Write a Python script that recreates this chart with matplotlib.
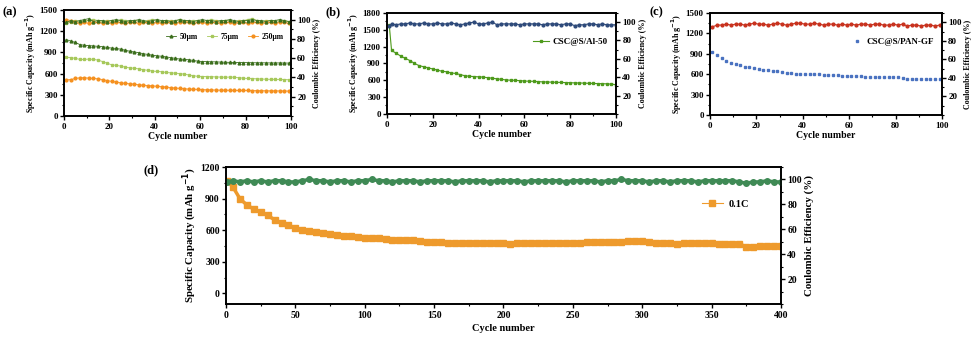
import numpy as np
import matplotlib
matplotlib.use("Agg")
from matplotlib import pyplot as plt
from matplotlib.ticker import MultipleLocator

plt.rcParams['font.family'] = ['Liberation Serif', 'DejaVu Serif']
plt.rcParams['font.weight'] = 'bold'
plt.rcParams['axes.labelweight'] = 'bold'
plt.rcParams['mathtext.default'] = 'bf'

# ---- panel (a): thickness series, every 2nd cycle ----
a_cycles = list(range(1, 100, 2))
a_cap_50 = [1080, 1060, 1040, 1010, 1000, 995, 990, 985, 980, 970,
            960, 955, 945, 930, 915, 905, 895, 880, 870, 860,
            850, 845, 835, 825, 815, 805, 800, 795, 785, 775,
            770, 768, 766, 765, 762, 760, 758, 757, 756, 755,
            754, 753, 752, 752, 751, 750, 750, 750, 749, 748]
a_cap_75 = [830, 825, 815, 800, 800, 805, 800, 790, 770, 745,
            725, 715, 705, 690, 680, 675, 665, 655, 645, 635,
            630, 625, 615, 610, 605, 600, 590, 580, 570, 560,
            558, 556, 555, 552, 550, 548, 550, 548, 540, 535,
            530, 528, 525, 522, 520, 518, 518, 516, 515, 512]
a_cap_250 = [510, 515, 530, 540, 540, 535, 530, 525, 515, 500,
             490, 480, 470, 460, 455, 450, 440, 435, 430, 425,
             420, 415, 410, 400, 395, 390, 385, 380, 378, 375,
             372, 370, 368, 366, 365, 364, 363, 362, 361, 360,
             360, 358, 358, 357, 356, 355, 355, 354, 353, 352]
a_ce_50 = [97, 99, 98, 99, 100, 101, 98, 99, 99, 98,
           99, 100, 99, 98, 99, 99, 100, 99, 98, 99,
           100, 99, 99, 98, 99, 100, 99, 99, 98, 99,
           100, 99, 99, 98, 99, 99, 100, 99, 98, 99,
           99, 100, 99, 99, 98, 99, 99, 100, 99, 98]
a_ce_75 = [96, 98, 99, 98, 99, 99, 100, 99, 98, 99,
           99, 98, 100, 99, 98, 99, 99, 98, 99, 100,
           99, 98, 99, 99, 98, 100, 99, 98, 99, 99,
           98, 99, 100, 99, 98, 99, 99, 98, 99, 99,
           100, 101, 99, 98, 99, 99, 98, 99, 99, 98]
a_ce_250 = [100, 99, 97, 96, 97, 96, 97, 97, 96, 97,
            96, 97, 97, 96, 97, 97, 96, 97, 97, 96,
            97, 96, 97, 97, 96, 97, 98, 97, 96, 97,
            97, 96, 97, 97, 96, 97, 97, 96, 97, 97,
            96, 97, 97, 96, 97, 97, 96, 97, 97, 96]

# ---- panel (b): CSC@S/Al-50 ----
b_cycles = [1] + list(range(2, 101, 2))
b_cap = [1580, 1130, 1080, 1030, 990, 950, 900, 860, 840, 820,
         800, 780, 760, 750, 730, 720, 700, 680, 670, 665,
         660, 655, 645, 635, 625, 615, 605, 600, 598, 592,
         585, 582, 580, 575, 570, 568, 565, 562, 560, 558,
         555, 552, 550, 548, 545, 542, 540, 538, 535, 530, 520]
b_ce = [96, 98, 97, 98, 98, 99, 98, 98, 99, 98,
        98, 99, 98, 98, 99, 98, 97, 98, 99, 100,
        98, 98, 99, 100, 97, 98, 98, 98, 98, 97,
        98, 98, 98, 98, 97, 98, 98, 98, 97, 98,
        98, 96, 97, 97, 98, 98, 97, 98, 97, 97, 97]

# ---- panel (c): CSC@S/PAN-GF ----
c_cycles = list(range(1, 100, 2))
c_cap = [920, 880, 840, 800, 770, 750, 730, 710, 700, 690,
         675, 660, 655, 650, 645, 635, 620, 612, 605, 605,
         605, 600, 598, 595, 592, 590, 588, 585, 580, 575,
         572, 570, 568, 565, 562, 560, 558, 556, 555, 555,
         552, 545, 535, 530, 530, 530, 528, 525, 525, 522]
c_ce = [95, 97, 97, 98, 97, 98, 98, 97, 98, 99,
        98, 98, 97, 98, 99, 98, 97, 98, 99, 99,
        98, 98, 99, 98, 97, 98, 98, 97, 98, 97,
        98, 97, 98, 98, 97, 98, 98, 97, 97, 98,
        97, 98, 96, 97, 97, 96, 97, 97, 96, 97]

# ---- panel (d): 0.1C long cycling, every 5th cycle ----
d_cycles = [1] + list(range(5, 401, 5))
d_cap = [1070, 1010, 900, 840, 800, 770, 740, 700, 670, 650,
         620, 600, 590, 585, 575, 565, 555, 550, 545, 540,
         530, 525, 522, 518, 512, 508, 505, 503, 500, 490,
         485, 485, 482, 480, 478, 478, 477, 476, 476, 475,
         475, 474, 475, 478, 480, 478, 477, 478, 480, 480,
         482, 483, 485, 487, 490, 490, 490, 492, 495, 498,
         495, 485, 480, 478, 475, 472, 475, 480, 482, 478,
         476, 474, 472, 470, 468, 445, 445, 447, 448, 450, 450]
d_ce = [98, 99, 98, 99, 98, 99, 98, 99, 99, 98,
        98, 99, 100, 99, 99, 98, 99, 99, 98, 99,
        99, 100, 99, 99, 98, 99, 99, 99, 98, 99,
        99, 99, 99, 98, 99, 99, 99, 99, 98, 99,
        99, 99, 99, 98, 99, 99, 99, 99, 99, 98,
        99, 99, 99, 99, 98, 99, 99, 100, 99, 99,
        99, 98, 99, 99, 98, 99, 99, 99, 98, 99,
        99, 99, 99, 99, 98, 97, 98, 98, 99, 98, 98]

CAP_LABEL = 'Specific Capacity (mAh g$^{-1}$)'
CE_LABEL = 'Coulombic Efficiency (%)'


def style_axes(ax, ax2, xmax, xmaj, xmin_, ymax, ymaj, ymin_, ybottom=0,
               fs=6.5, lfs=5.8, xlfs=7, xpad=1):
    ax.set_xlim(0, xmax)
    ax.set_ylim(ybottom, ymax)
    ax.xaxis.set_major_locator(MultipleLocator(xmaj))
    ax.xaxis.set_minor_locator(MultipleLocator(xmin_))
    ax.set_yticks(np.arange(0, ymax + 1, ymaj))
    ax.yaxis.set_minor_locator(MultipleLocator(ymin_))
    ax2.set_ylim(0, 110)
    ax2.set_yticks([20, 40, 60, 80, 100])
    ax2.yaxis.set_minor_locator(MultipleLocator(10))
    for a in (ax, ax2):
        a.tick_params(which='major', direction='out', length=3, width=1, labelsize=fs)
        a.tick_params(which='minor', direction='out', length=1.6, width=0.8)
        for s in a.spines.values():
            s.set_linewidth(1.2)
    ax.tick_params(axis='x', pad=2)
    ax.tick_params(axis='y', pad=1.5)
    ax2.tick_params(axis='y', pad=1.5)
    ax.set_ylabel(CAP_LABEL, fontsize=lfs, labelpad=1)
    ax2.set_ylabel(CE_LABEL, fontsize=lfs, labelpad=2)
    ax.set_xlabel('Cycle number', fontsize=xlfs, labelpad=xpad)


fig = plt.figure(figsize=(9.75, 3.43), dpi=100)

# (a)
ax = fig.add_axes([0.0656, 0.662, 0.2328, 0.309])
ax2 = ax.twinx()
ax2.plot(a_cycles, a_ce_75, color='#a6c85a', marker='s', ms=2, lw=0.6)
ax2.plot(a_cycles, a_ce_250, color='#f5901e', marker='o', ms=2, lw=0.6)
ax2.plot(a_cycles, a_ce_50, color='#3b6e1c', marker='^', ms=2, lw=0.6)
ax.plot(a_cycles, a_cap_50, color='#3b6e1c', marker='^', ms=2, lw=0.6, label='50μm')
ax.plot(a_cycles, a_cap_75, color='#a6c85a', marker='s', ms=2, lw=0.6, label='75μm')
ax.plot(a_cycles, a_cap_250, color='#f5901e', marker='o', ms=2, lw=0.6, label='250μm')
style_axes(ax, ax2, 100, 20, 10, 1500, 300, 150)
ax.legend(loc='center right', bbox_to_anchor=(1.0, 0.745), ncol=3, frameon=False,
          fontsize=5.5, handlelength=1.3, columnspacing=1.2, handletextpad=0.5)
fig.text(0.003, 0.955, '(a)', fontsize=9, fontweight='bold')

# (b)
ax = fig.add_axes([0.3969, 0.668, 0.2349, 0.2945])
ax2 = ax.twinx()
ax2.plot(b_cycles, b_ce, color='#2e4a7a', marker='o', ms=2, lw=0.8)
ax.plot(b_cycles, b_cap, color='#4e9a1c', marker='s', ms=2, lw=0.8, label='CSC@S/Al-50')
style_axes(ax, ax2, 100, 20, 10, 1800, 300, 150)
ax.legend(loc='center right', bbox_to_anchor=(1.0, 0.71), frameon=False,
          fontsize=6.5, handlelength=1.8, handletextpad=0.4)
fig.text(0.334, 0.955, '(b)', fontsize=9, fontweight='bold')

# (c)
ax = fig.add_axes([0.7282, 0.665, 0.2379, 0.297])
ax2 = ax.twinx()
ax2.plot(c_cycles, c_ce, color='#c8321e', marker='o', ms=2, lw=0.8)
ax.plot(c_cycles, c_cap, color='#4a72c0', marker='s', ms=2, lw=0, label='CSC@S/PAN-GF')
style_axes(ax, ax2, 100, 20, 10, 1500, 300, 150)
ax.legend(loc='center right', bbox_to_anchor=(1.0, 0.72), frameon=False,
          fontsize=6.5, handlelength=1.2, handletextpad=0.4)
fig.text(0.666, 0.955, '(c)', fontsize=9, fontweight='bold')

# (d)
ax = fig.add_axes([0.2318, 0.1137, 0.5692, 0.3994])
ax2 = ax.twinx()
ax2.plot(d_cycles, d_ce, color='#3f8a55', marker='o', ms=4, lw=2.5)
ax.plot(d_cycles, d_cap, color='#ee9a2c', marker='s', ms=4, lw=2.5, label='0.1C')
style_axes(ax, ax2, 400, 50, 25, 1200, 300, 150, ybottom=-100,
           fs=7, lfs=7.8, xlfs=7.5, xpad=3)
ax.legend(loc='center right', bbox_to_anchor=(0.96, 0.73), frameon=False,
          fontsize=7.5, handlelength=2.0, handletextpad=0.6)
for h in ax.get_legend().legend_handles:
    h.set_linewidth(0.8)
fig.text(0.147, 0.495, '(d)', fontsize=9, fontweight='bold')

fig.savefig('out.png', dpi=100)
